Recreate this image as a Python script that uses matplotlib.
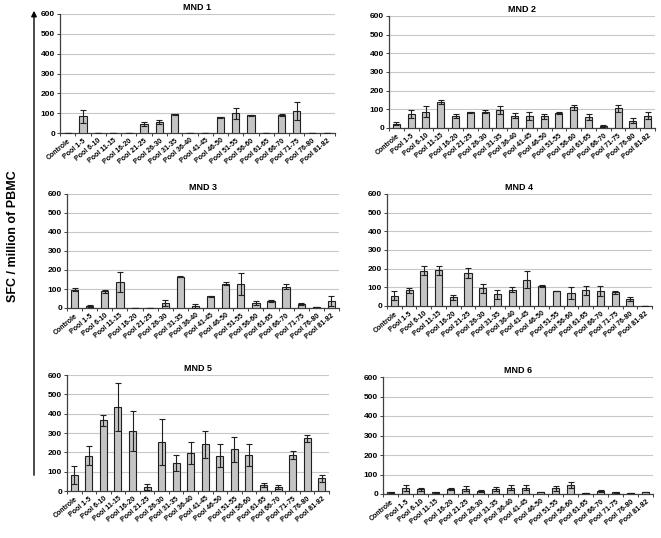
import matplotlib
matplotlib.use("Agg")
import matplotlib.pyplot as plt
import numpy as np

plt.rcParams['font.family'] = ['Liberation Sans', 'DejaVu Sans']

categories = ["Controle", "Pool 1-5", "Pool 6-10", "Pool 11-15", "Pool 16-20", "Pool 21-25",
              "Pool 26-30", "Pool 31-35", "Pool 36-40", "Pool 41-45", "Pool 46-50", "Pool 51-55",
              "Pool 56-60", "Pool 61-65", "Pool 66-70", "Pool 71-75", "Pool 76-80", "Pool 81-82"]

mnd1_vals = [0, 84, 0, 0, 0, 45, 55, 95, 0, 0, 80, 100, 90, 0, 90, 110, 0, 0]
mnd1_err = [0, 33, 0, 0, 0, 10, 10, 3, 0, 0, 2, 28, 3, 0, 5, 45, 0, 0]

mnd2_vals = [24, 75, 87, 138, 66, 85, 87, 96, 66, 65, 62, 80, 110, 59, 12, 105, 39, 66]
mnd2_err = [10, 20, 30, 10, 10, 3, 7, 22, 12, 20, 12, 5, 15, 15, 6, 20, 14, 20]

mnd3_vals = [97, 11, 88, 137, 1, 1, 26, 165, 12, 62, 128, 125, 26, 35, 113, 23, 5, 35]
mnd3_err = [8, 5, 8, 55, 0, 0, 15, 2, 10, 3, 8, 58, 10, 5, 15, 5, 1, 27]

mnd4_vals = [55, 84, 189, 191, 46, 175, 95, 63, 88, 141, 107, 80, 70, 84, 80, 73, 38, 0]
mnd4_err = [25, 12, 25, 25, 15, 27, 25, 25, 15, 45, 3, 2, 30, 25, 28, 10, 10, 0]

mnd5_vals = [83, 183, 365, 436, 310, 19, 252, 145, 198, 241, 183, 215, 186, 29, 21, 185, 272, 65]
mnd5_err = [45, 50, 30, 125, 105, 15, 120, 40, 57, 68, 60, 63, 57, 10, 12, 22, 20, 17]

mnd6_vals = [9, 32, 25, 8, 24, 27, 15, 25, 32, 31, 10, 29, 44, 5, 15, 8, 6, 10]
mnd6_err = [2, 15, 8, 2, 5, 12, 4, 12, 12, 13, 2, 13, 15, 1, 4, 2, 1, 2]

titles = ["MND 1", "MND 2", "MND 3", "MND 4", "MND 5", "MND 6"]
yticks = [0, 100, 200, 300, 400, 500, 600]
ylabel = "SFC / million of PBMC"

W, H = 661, 538
fig = plt.figure(figsize=(W / 100, H / 100), dpi=100)

# pixel boxes: left, right, top, bottom
boxes = [(60, 335, 14, 133), (389, 655, 16, 128),
         (67, 339, 194, 308), (387, 652, 194, 306),
         (67, 329, 375, 491), (383, 653, 377, 494)]
data = [(mnd1_vals, mnd1_err), (mnd2_vals, mnd2_err), (mnd3_vals, mnd3_err),
        (mnd4_vals, mnd4_err), (mnd5_vals, mnd5_err), (mnd6_vals, mnd6_err)]

x = np.arange(len(categories))
for (l, r, t, b), (vals, errs), title in zip(boxes, data, titles):
    ax = fig.add_axes([l / W, 1 - b / H, (r - l) / W, (b - t) / H])
    ax.bar(x, vals, width=0.48, color='#c4c4c4', edgecolor='#202020', linewidth=0.8, zorder=3)
    ax.errorbar(x, vals, yerr=errs, fmt='none', ecolor='#202020', elinewidth=0.8,
                capsize=2.2, capthick=0.8, zorder=4)
    ax.set_xlim(-0.5, len(categories) - 0.5)
    ax.set_ylim(0, 600)
    ax.set_yticks(yticks)
    ax.set_yticklabels([str(v) for v in yticks], fontsize=6, fontweight='bold')
    ax.set_xticks(x)
    ax.set_xticklabels(categories, rotation=40, ha='right', rotation_mode='anchor',
                       fontsize=5, fontweight='bold')
    ax.set_xticks(np.arange(len(categories) + 1) - 0.5, minor=True)
    ax.tick_params(axis='x', which='major', length=0, pad=3)
    ax.tick_params(axis='x', which='minor', length=2.5, width=0.7, color='#404040')
    ax.tick_params(axis='y', length=2.5, width=0.7, pad=1, color='#404040')
    ax.yaxis.grid(True, color='#c8c8c8', linewidth=0.8, zorder=0)
    ax.set_axisbelow(True)
    for s in ['top', 'right']:
        ax.spines[s].set_visible(False)
    for s in ['left', 'bottom']:
        ax.spines[s].set_color('#404040')
        ax.spines[s].set_linewidth(0.9)
    ax.set_title(title, fontsize=6.5, fontweight='bold', pad=3)

# global arrow and label
fig.add_artist(matplotlib.patches.FancyArrowPatch((34 / W, 1 - 478 / H), (34 / W, 1 - 8 / H),
                                                  transform=fig.transFigure, arrowstyle='-|>',
                                                  mutation_scale=8, color='black', linewidth=1.0))
fig.text(13 / W, 1 - 236 / H, ylabel, rotation=90, ha='center', va='center', fontsize=9,
         fontweight='bold')

fig.savefig("out.png", dpi=100)
